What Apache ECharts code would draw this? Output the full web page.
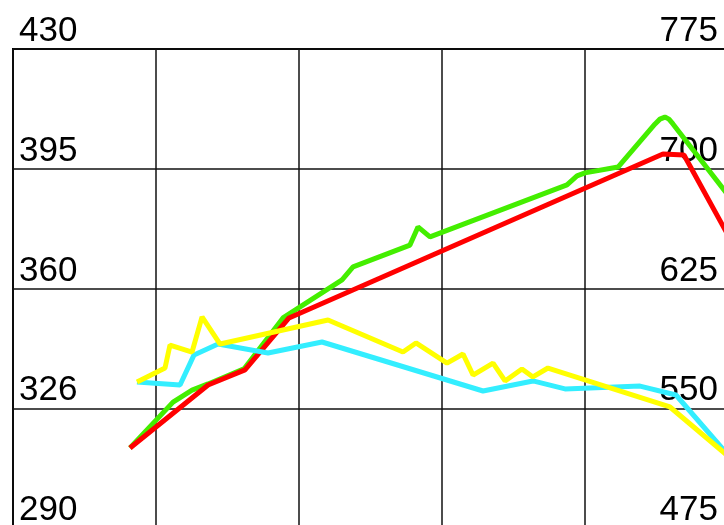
<!DOCTYPE html>
<html>
<head>
<meta charset="utf-8">
<script src="https://cdn.jsdelivr.net/npm/echarts@6/dist/echarts.min.js"></script>
<style>html,body{margin:0;padding:0;background:#fff}#c{width:724px;height:525px}</style>
</head>
<body>
<div id="c"></div>
<script>
// Tick labels
var leftTickLabels = ['290', '326', '360', '395', '430'];
var rightTickLabels = ['475', '550', '625', '700', '775'];

// Red series (left axis)
var redX = [8.18, 13.64, 16.22, 19.30, 45.45, 46.92, 50.00];
var redY = [313.4, 331.8, 336.2, 351.4, 399.3, 399.0, 375.6];

// Green series (left axis)
var greenX = [8.18, 11.19, 12.52, 13.64, 16.15, 18.88, 23.01, 23.78, 27.76, 28.32, 29.16, 38.74, 39.44, 40.00, 42.31, 44.90, 45.24, 45.59, 45.87, 46.15, 50.00];
var greenY = [313.4, 326.8, 330.3, 332.1, 336.5, 351.4, 362.5, 366.3, 372.7, 378.0, 375.1, 390.3, 392.9, 393.8, 395.5, 408.1, 409.5, 410.1, 409.5, 408.1, 387.3];

// Yellow series (right axis)
var yellowX = [8.67, 10.63, 10.98, 12.52, 13.22, 14.48, 22.03, 27.27, 28.18, 30.35, 31.47, 32.17, 33.57, 34.41, 35.59, 36.36, 37.41, 45.94, 50.00];
var yellowY = [566.4, 575.2, 589.6, 585.2, 607.2, 590.2, 605.3, 585.2, 590.9, 578.3, 584.0, 570.8, 578.3, 567.1, 574.6, 569.6, 575.2, 550.8, 520.1];

// Cyan series (right axis)
var cyanX = [8.67, 11.68, 12.66, 14.34, 17.83, 21.61, 32.87, 36.36, 38.60, 43.85, 46.36, 50.00];
var cyanY = [566.4, 564.6, 583.4, 590.2, 584.6, 591.5, 560.8, 567.1, 562.1, 563.9, 558.3, 520.7];

function pairs(xs, ys) {
  var out = [];
  for (var i = 0; i < xs.length; i++) out.push([xs[i], ys[i]]);
  return out;
}

var chart = echarts.init(document.getElementById('c'), null, {renderer: 'canvas'});
var labelFont = {
  inside: true,
  fontFamily: 'Liberation Sans, Arial, sans-serif',
  fontSize: 35,
  color: '#000',
  verticalAlign: 'bottom'
};
chart.setOption({
  animation: false,
  backgroundColor: '#fff',
  grid: {
    left: 13, top: 49, width: 715, height: 479,
    show: true, borderColor: '#000', borderWidth: 2,
    containLabel: false, outerBoundsMode: 'none'
  },
  xAxis: {
    type: 'value', min: 0, max: 50, interval: 10,
    axisLine: {show: false}, axisTick: {show: false}, axisLabel: {show: false},
    splitLine: {show: true, lineStyle: {color: '#111', width: 1.5}}
  },
  yAxis: [
    {
      type: 'value', min: 290, max: 430, interval: 35, position: 'left',
      axisLine: {show: false}, axisTick: {show: false},
      axisLabel: Object.assign({}, labelFont, {
        align: 'left', margin: 6,
        formatter: function (v) { var i = Math.round((v - 290) / 35); return leftTickLabels[i]; }
      }),
      splitLine: {show: true, lineStyle: {color: '#111', width: 1.5}}
    },
    {
      type: 'value', min: 475, max: 775, interval: 75, position: 'right',
      axisLine: {show: false}, axisTick: {show: false},
      axisLabel: Object.assign({}, labelFont, {
        align: 'right', margin: 10,
        formatter: function (v) { var i = Math.round((v - 475) / 75); return rightTickLabels[i]; }
      }),
      splitLine: {show: false}
    }
  ],
  series: [
    {type: 'line', name: 'green', yAxisIndex: 0, data: pairs(greenX, greenY), showSymbol: false, symbol: 'none',
     lineStyle: {color: '#44ee00', width: 5}, itemStyle: {color: '#44ee00'}},
    {type: 'line', name: 'red', yAxisIndex: 0, data: pairs(redX, redY), showSymbol: false, symbol: 'none',
     lineStyle: {color: '#ff0000', width: 5}, itemStyle: {color: '#ff0000'}},
    {type: 'line', name: 'cyan', yAxisIndex: 1, data: pairs(cyanX, cyanY), showSymbol: false, symbol: 'none',
     lineStyle: {color: '#33eeff', width: 5}, itemStyle: {color: '#33eeff'}},
    {type: 'line', name: 'yellow', yAxisIndex: 1, data: pairs(yellowX, yellowY), showSymbol: false, symbol: 'none',
     lineStyle: {color: '#ffff00', width: 5}, itemStyle: {color: '#ffff00'}}
  ]
});
</script>
</body>
</html>
